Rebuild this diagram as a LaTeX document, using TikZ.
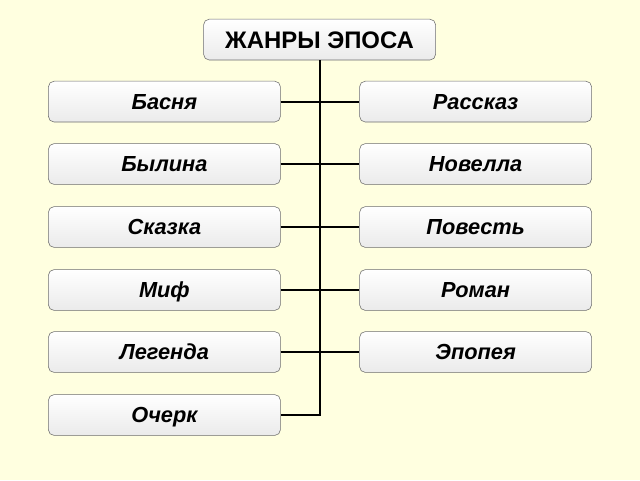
\documentclass[tikz,border=0pt]{standalone}
\usepackage{fontspec}
\setmainfont{Liberation Sans}
\definecolor{bgyellow}{RGB}{255,255,224}
\definecolor{boxline}{RGB}{110,110,110}
\begin{document}
\begin{tikzpicture}[
    box/.style={draw=boxline, rounded corners=4pt, align=center, minimum width=58mm, minimum height=10.2mm,
      top color=white, bottom color=black!8, text height=3.9mm, text depth=0.1mm,
      font=\fontsize{15.5}{18}\selectfont\bfseries\itshape},
    title/.style={box, text height=4.3mm, font=\fontsize{17}{20}\selectfont\bfseries},
    link/.style={line width=1.4pt, black}
  ]
    \fill[bgyellow] (0,0) rectangle (16,-12);
    \useasboundingbox (0,0) rectangle (16,-12);

    \node[title] (epos) at (7.99,-0.99) {ЖАНРЫ ЭПОСА};

    \node[box] (basnya) at (4.11,-2.54) {Басня};
    \node[box] (bylina) at (4.11,-4.10) {Былина};
    \node[box] (skazka) at (4.11,-5.675) {Сказка};
    \node[box] (mif) at (4.11,-7.25) {Миф};
    \node[box] (legenda) at (4.11,-8.80) {Легенда};
    \node[box] (ocherk) at (4.11,-10.375) {Очерк};

    \node[box] (rasskaz) at (11.89,-2.54) {Рассказ};
    \node[box] (novella) at (11.89,-4.10) {Новелла};
    \node[box] (povest) at (11.89,-5.675) {Повесть};
    \node[box] (roman) at (11.89,-7.25) {Роман};
    \node[box] (epopeya) at (11.89,-8.80) {Эпопея};

    \draw[link] (basnya) -- (rasskaz);
    \draw[link] (bylina) -- (novella);
    \draw[link] (skazka) -- (povest);
    \draw[link] (mif) -- (roman);
    \draw[link] (legenda) -- (epopeya);
    \draw[link] (epos.south -| 8,0) |- (ocherk.east);
  \end{tikzpicture}
\end{document}
